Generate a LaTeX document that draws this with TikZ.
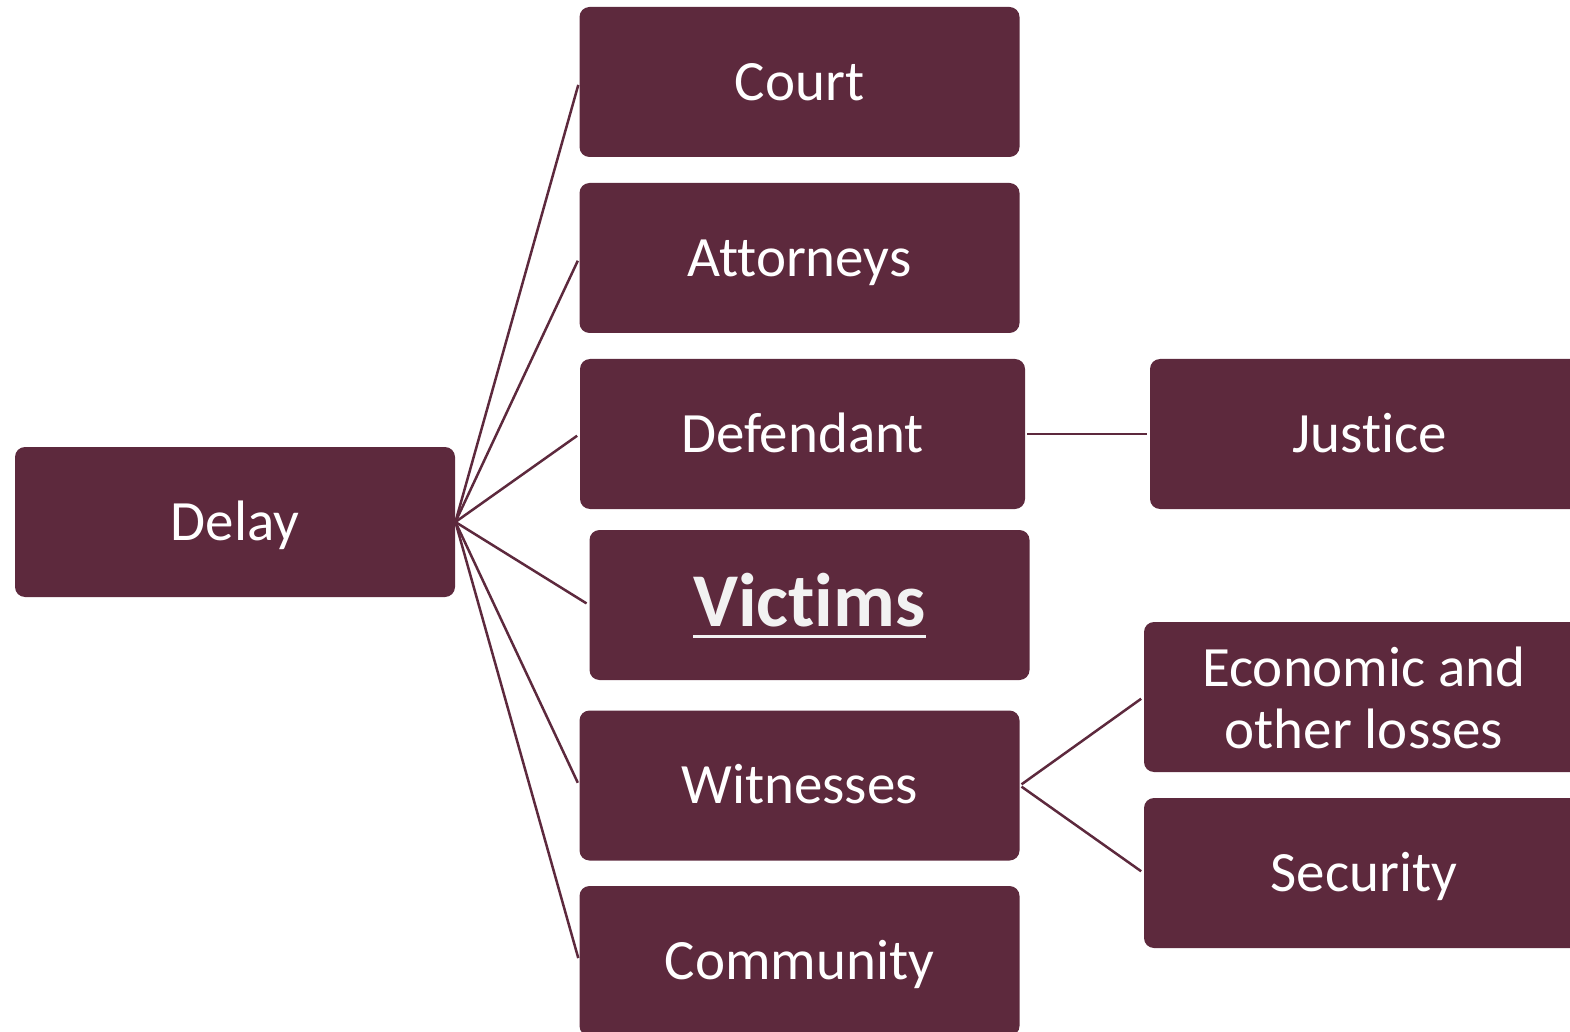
\documentclass[tikz,border=0pt]{standalone}
\usepackage{fontspec}
\setmainfont{Carlito}[Ligatures={NoCommon,NoContextual}, Contextuals=NoAlternate]
\usetikzlibrary{positioning}
\definecolor{maroon}{RGB}{93,41,61}
\definecolor{offwhite}{RGB}{242,242,242}
\newcommand{\ulword}[1]{\setbox0\hbox{#1}\rlap{\raisebox{-5.5pt}{\rule{\wd0}{1.5pt}}}\box0}
\tikzstyle{block} = [rectangle, rounded corners=5pt, minimum width=220pt, minimum height=75pt, text centered, fill=maroon, text=white, text height=18.4pt, text depth=0pt, font=\fontsize{28.5}{31}\selectfont]
\tikzstyle{link} = [draw=maroon, line width=1.25pt, shorten >=1.5pt]

\begin{document}
\begin{tikzpicture}[x=0.5pt, y=-0.5pt]
\clip (0,0) rectangle (1570,1032);
% Define nodes
\node (delay) [block] at (235,522) {Delay};
\node (court) [block] at (799.5,82) {Court};
\node (attorneys) [block] at (799.5,258) {Attorneys};
\node (defendant) [block, minimum width=222.5pt] at (802.5,434) {Defendant};
\node (victims) [block, text=offwhite, text height=24.5pt, text depth=3pt, font=\fontsize{38}{40}\selectfont\bfseries] at (809.5,605) {\ulword{Victims}};
\node (witnesses) [block] at (799.5,785.5) {Witnesses};
\node (community) [block] at (799.5,961) {Community};
\node (justice) [block] at (1370,434) {Justice};
\node (economic) [block, align=center, text height=51pt, text depth=0pt] at (1364,697) {Economic and\\other losses};
\node (security) [block] at (1364,873) {Security};
% Connect nodes with lines
\draw [link] (delay.east) -- (court.west);
\draw [link] (delay.east) -- (attorneys.west);
\draw [link] (delay.east) -- (defendant.west);
\draw [link] (delay.east) -- (victims.west);
\draw [link] (delay.east) -- (witnesses.west);
\draw [link] (delay.east) -- (community.west);
\draw [link, shorten <=1pt] (defendant.east) -- (justice.west);
\draw [link, shorten <=1pt] (witnesses.east) -- (economic.west);
\draw [link, shorten <=1pt] (witnesses.east) -- (security.west);
\end{tikzpicture}
\end{document}
